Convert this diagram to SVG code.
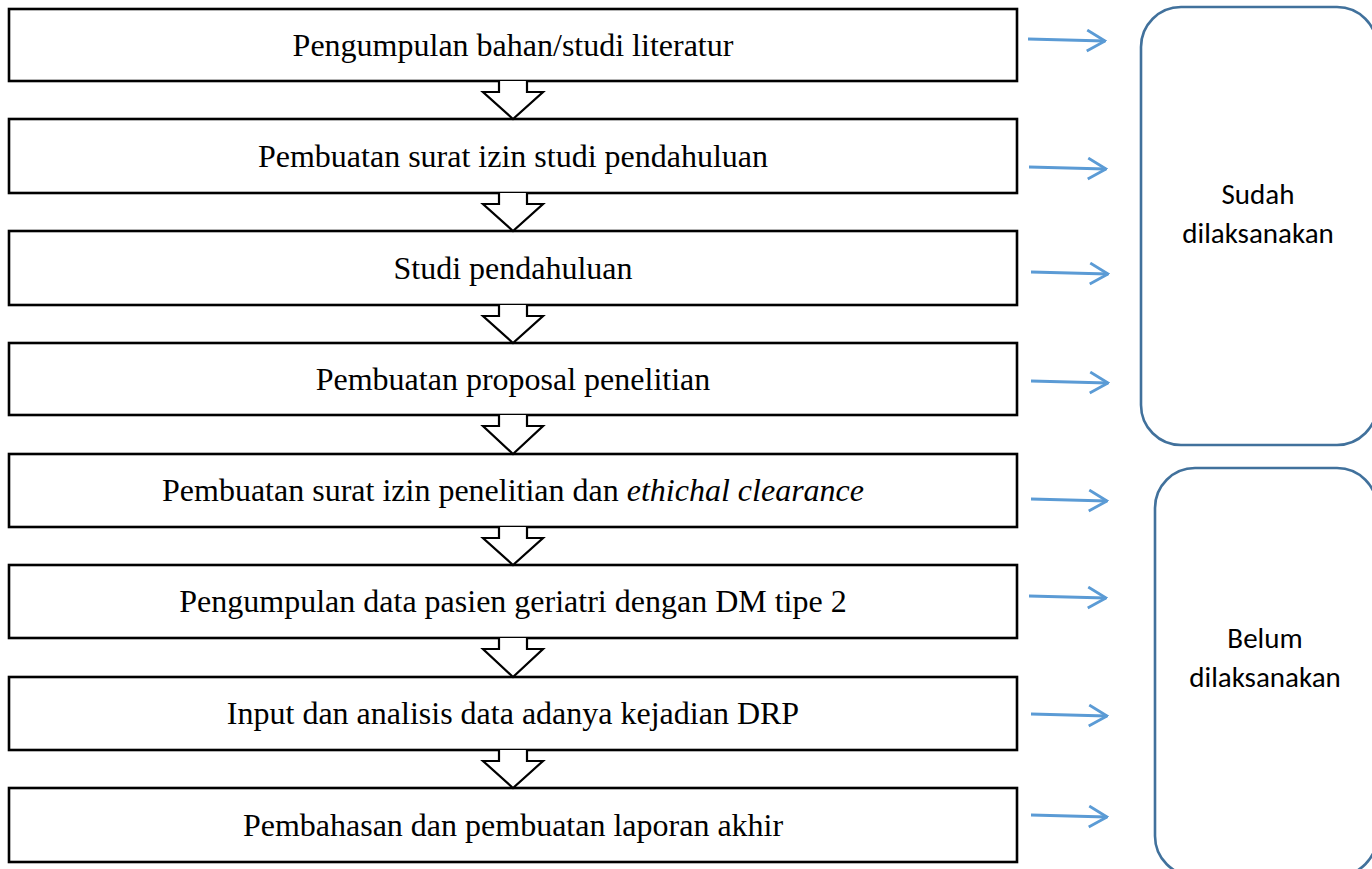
<svg xmlns="http://www.w3.org/2000/svg" width="1372" height="869" viewBox="0 0 1372 869">
  <style>
    .box { fill: #ffffff; stroke: #000000; stroke-width: 2.6; }
    .lbl { font-family: "Liberation Serif", "Times New Roman", serif; font-size: 32px; fill: #000000; text-anchor: middle; }
    .flow { fill: #ffffff; stroke: #000000; stroke-width: 2.2; stroke-linejoin: miter; }
    .conn { stroke: #5b9bd5; stroke-width: 2.8; fill: none; marker-end: url(#open); }
    .group { fill: #ffffff; stroke: #41719c; stroke-width: 2.6; }
    .glbl { font-family: Carlito, Lato, "Liberation Sans", sans-serif; font-size: 29px; fill: #000000; text-anchor: middle; }
  </style>
  <defs>
    <marker id="open" viewBox="0 0 21 24" refX="19.5" refY="12" markerWidth="21" markerHeight="24" markerUnits="userSpaceOnUse" orient="auto">
      <polyline points="1.5,1.5 19.5,12 1.5,22.5" fill="none" stroke="#5b9bd5" stroke-width="2.8"/>
    </marker>
  </defs>

  <rect x="0" y="0" width="1372" height="869" fill="#ffffff"/>

  <g id="group-sudah">
    <rect class="group" x="1141" y="7" width="236" height="438" rx="40" ry="40"/>
    <text class="glbl" x="1258" y="204">Sudah</text>
    <text class="glbl" x="1258" y="243">dilaksanakan</text>
  </g>
  <g id="group-belum">
    <rect class="group" x="1155" y="468" width="222" height="408" rx="40" ry="40"/>
    <text class="glbl" x="1265" y="648">Belum</text>
    <text class="glbl" x="1265" y="687">dilaksanakan</text>
  </g>

  <g id="step1">
    <rect class="box" x="9" y="9" width="1008" height="72"/>
    <text class="lbl" x="513" y="56">Pengumpulan bahan/studi literatur</text>
  </g>
  <g id="step2">
    <rect class="box" x="9" y="119" width="1008" height="74"/>
    <text class="lbl" x="513" y="167">Pembuatan surat izin studi pendahuluan</text>
  </g>
  <g id="step3">
    <rect class="box" x="9" y="231" width="1008" height="74"/>
    <text class="lbl" x="513" y="279">Studi pendahuluan</text>
  </g>
  <g id="step4">
    <rect class="box" x="9" y="343" width="1008" height="72"/>
    <text class="lbl" x="513" y="390">Pembuatan proposal penelitian</text>
  </g>
  <g id="step5">
    <rect class="box" x="9" y="454" width="1008" height="73"/>
    <text class="lbl" x="513" y="501">Pembuatan surat izin penelitian dan <tspan font-style="italic">ethichal clearance</tspan></text>
  </g>
  <g id="step6">
    <rect class="box" x="9" y="565" width="1008" height="73"/>
    <text class="lbl" x="513" y="612">Pengumpulan data pasien geriatri dengan DM tipe 2</text>
  </g>
  <g id="step7">
    <rect class="box" x="9" y="677" width="1008" height="73"/>
    <text class="lbl" x="513" y="724">Input dan analisis data adanya kejadian DRP</text>
  </g>
  <g id="step8">
    <rect class="box" x="9" y="788" width="1008" height="74"/>
    <text class="lbl" x="513" y="836">Pembahasan dan pembuatan laporan akhir</text>
  </g>

  <g id="connectors">
    <polyline class="flow" points="499,81 499,92 483,92 513,119 543,92 527,92 527,81"/>
    <polyline class="flow" points="499,193 499,204 483,204 513,231 543,204 527,204 527,193"/>
    <polyline class="flow" points="499,305 499,316 483,316 513,343 543,316 527,316 527,305"/>
    <polyline class="flow" points="499,415 499,426 483,426 513,454 543,426 527,426 527,415"/>
    <polyline class="flow" points="499,527 499,538 483,538 513,565 543,538 527,538 527,527"/>
    <polyline class="flow" points="499,638 499,649 483,649 513,677 543,649 527,649 527,638"/>
    <polyline class="flow" points="499,750 499,761 483,761 513,788 543,761 527,761 527,750"/>

    <line class="conn" x1="1028" y1="39" x2="1105" y2="41"/>
    <line class="conn" x1="1029" y1="167" x2="1106" y2="169"/>
    <line class="conn" x1="1031" y1="272" x2="1108" y2="274"/>
    <line class="conn" x1="1031" y1="381" x2="1108" y2="383"/>
    <line class="conn" x1="1031" y1="499" x2="1107" y2="501"/>
    <line class="conn" x1="1029" y1="596" x2="1106" y2="598"/>
    <line class="conn" x1="1031" y1="714" x2="1107" y2="716"/>
    <line class="conn" x1="1031" y1="815" x2="1107" y2="817"/>
  </g>
</svg>
